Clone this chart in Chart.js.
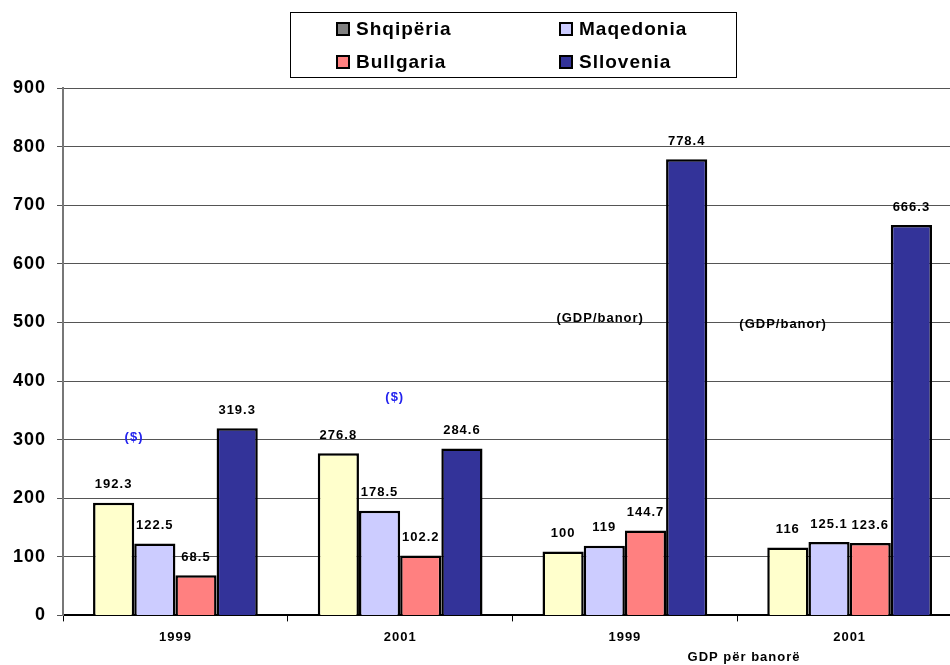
<!DOCTYPE html>
<html>
<head>
<meta charset="utf-8">
<script src="https://cdn.jsdelivr.net/npm/chart.js@4/dist/chart.umd.min.js"></script>
<style>
  html, body { margin: 0; padding: 0; background: #fff; overflow: hidden; }
  #wrap { width: 950px; height: 665px; overflow: hidden; position: relative; }
</style>
</head>
<body>
<div id="wrap"><canvas id="grafica" width="970" height="665"></canvas></div>
<script>
// categorias y series
const categorias = ['1999', '2001', '1999', '2001'];
const paises = ['Shqipëria', 'Maqedonia', 'Bullgaria', 'Sllovenia'];
const shqiperia = [192.3, 276.8, 109, 116];
const maqedonia = [122.5, 178.5, 119, 125.1];
const bullgaria = [68.5, 102.2, 144.7, 123.6];
const sllovenia = [319.3, 284.6, 778.4, 666.3];
// texto de las etiquetas tal como aparecen
const etiquetasShq = ['192.3', '276.8', '100', '116'];
const etiquetasMaq = ['122.5', '178.5', '119', '125.1'];
const etiquetasBul = ['68.5', '102.2', '144.7', '123.6'];
const etiquetasSll = ['319.3', '284.6', '778.4', '666.3'];
const tituloEjeX = 'GDP për banorë';

const colores = ['#FFFFCC', '#CCCCFF', '#FF8080', '#333399'];
const coloresLeyenda = ['#808080', '#CCCCFF', '#FF8080', '#333399'];

// notas sueltas dentro del grafico (categoria + desplazamiento, valor)
const notas = [
  { texto: '($)', cat: 0, dx: -0.184, val: 304, color: '#2222ee' },
  { texto: '($)', cat: 1, dx: -0.024, val: 372, color: '#2222ee' },
  { texto: '(GDP/banor)', cat: 2, dx: -0.11, val: 507, color: '#000' },
  { texto: '(GDP/banor)', cat: 3, dx: -0.296, val: 497, color: '#000' }
];

const series = [shqiperia, maqedonia, bullgaria, sllovenia];
const textos = [etiquetasShq, etiquetasMaq, etiquetasBul, etiquetasSll];

const pluginTexto = {
  id: 'textos',
  beforeDraw(chart) {
    chart.ctx.letterSpacing = '1px';
  },
  afterDatasetsDraw(chart) {
    const ctx = chart.ctx;
    ctx.save();
    ctx.letterSpacing = '1px';
    ctx.font = 'bold 13px Arial, "Liberation Sans", sans-serif';
    ctx.fillStyle = '#000';
    ctx.textAlign = 'center';
    ctx.textBaseline = 'middle';
    chart.data.datasets.forEach(function(ds, i) {
      chart.getDatasetMeta(i).data.forEach(function(bar, j) {
        ctx.fillText(textos[i][j], bar.x, bar.y - 18);
      });
    });
    const x = chart.scales.x, y = chart.scales.y;
    notas.forEach(function(n) {
      ctx.fillStyle = n.color;
      ctx.fillText(n.texto, x.getPixelForValue(n.cat + n.dx), y.getPixelForValue(n.val));
    });
    ctx.fillStyle = '#000';
    ctx.fillText(tituloEjeX, x.getPixelForValue(2.53), 657);
    ctx.restore();
  },
  afterDraw(chart) {
    // leyenda en caja de 2 columnas
    const ctx = chart.ctx;
    ctx.save();
    ctx.strokeStyle = '#000';
    ctx.lineWidth = 1;
    ctx.strokeRect(290.5, 12.5, 446, 65);
    ctx.font = 'bold 19px Arial, "Liberation Sans", sans-serif';
    ctx.letterSpacing = '1px';
    ctx.textBaseline = 'middle';
    ctx.textAlign = 'left';
    const pos = [[336, 22], [559, 22], [336, 55], [559, 55]];
    paises.forEach(function(p, i) {
      ctx.fillStyle = coloresLeyenda[i];
      ctx.fillRect(pos[i][0], pos[i][1], 14, 14);
      ctx.lineWidth = 2;
      ctx.strokeRect(pos[i][0] + 1, pos[i][1] + 1, 12, 12);
      ctx.fillStyle = '#000';
      ctx.fillText(p, pos[i][0] + 20, pos[i][1] + 8);
    });
    ctx.restore();
  }
};

new Chart(document.getElementById('grafica'), {
  type: 'bar',
  data: {
    labels: categorias,
    datasets: series.map(function(s, i) {
      return {
        label: paises[i],
        data: s,
        backgroundColor: colores[i],
        borderColor: '#000',
        borderWidth: 2.5,
        barPercentage: 1,
        categoryPercentage: 0.733
      };
    })
  },
  options: {
    responsive: false,
    animation: false,
    layout: { padding: { top: 88, left: 5, right: 8, bottom: 12 } },
    plugins: { legend: { display: false }, tooltip: { enabled: false } },
    scales: {
      x: {
        grid: { display: true, drawOnChartArea: false, drawTicks: true, tickLength: 6, color: '#000', offset: true },
        border: { color: '#000', width: 2 },
        ticks: { color: '#000', padding: 8, font: { family: 'Arial', size: 13, weight: 'bold' } }
      },
      y: {
        min: 0, max: 900,
        ticks: { stepSize: 100, color: '#000', padding: 11, font: { family: 'Arial', size: 18, weight: 'bold' } },
        grid: { color: '#555', lineWidth: 1, tickLength: 6, drawTicks: true },
        border: { color: '#777', width: 2 }
      }
    }
  },
  plugins: [pluginTexto]
});
</script>
</body>
</html>
